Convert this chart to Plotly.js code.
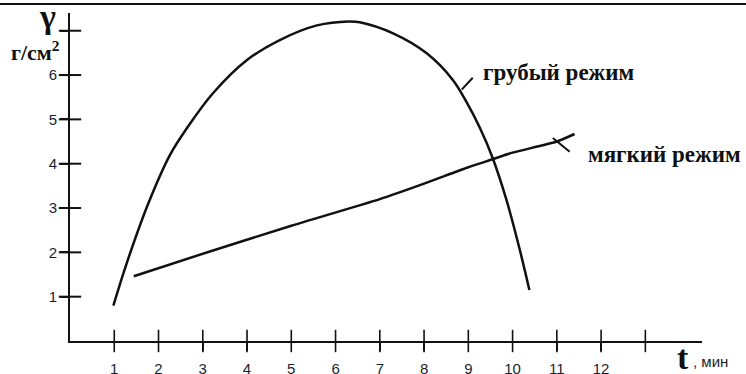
<!DOCTYPE html>
<html>
<head>
<meta charset="utf-8">
<script src="https://cdn.plot.ly/plotly-3.0.1.min.js"></script>
<style>html,body{margin:0;padding:0;background:#fff;}#chart{width:746px;height:374px;}</style>
</head>
<body>
<div id="chart"></div>
<script>
// грубый режим (coarse mode)
const roughT = [0.98, 1.29, 1.76, 2.26, 2.64, 3.23, 4.0, 4.74, 5.58, 6.3, 6.55, 7.3, 8.06, 8.65, 8.97, 9.26, 9.55, 9.86, 10.16, 10.38];
const roughG = [0.8, 1.78, 3.08, 4.2, 4.8, 5.59, 6.34, 6.79, 7.12, 7.21, 7.19, 6.94, 6.49, 5.89, 5.37, 4.81, 4.13, 3.19, 2.07, 1.15];
// мягкий режим (soft mode)
const softT = [1.44, 3.16, 5.0, 7.0, 8.0, 9.0, 9.55, 10.0, 11.0, 11.4];
const softG = [1.46, 2.02, 2.6, 3.2, 3.55, 3.92, 4.1, 4.25, 4.5, 4.67];
// axis ticks
const xTickVals = [1, 2, 3, 4, 5, 6, 7, 8, 9, 10, 11, 12, 13];
const xTickText = ['1', '2', '3', '4', '5', '6', '7', '8', '9', '10', '11', '12', ''];
const yTickVals = [1, 2, 3, 4, 5, 6, 7];
const yTickText = ['1', '2', '3', '4', '5', '6', ''];
const roughLabel = 'грубый режим';
const softLabel = 'мягкий режим';

const serif = 'Liberation Serif, Times New Roman, serif';
const sans = 'Liberation Sans, Arial, sans-serif';
const ink = '#111';

const traces = [
  {x: roughT, y: roughG, mode: 'lines', line: {color: ink, width: 2.5, shape: 'spline', smoothing: 1}, hoverinfo: 'skip', showlegend: false},
  {x: softT, y: softG, mode: 'lines', line: {color: ink, width: 2.5, shape: 'spline', smoothing: 0.6}, hoverinfo: 'skip', showlegend: false},
  // hand-drawn style tick marks that cross the axes
  {x: xTickVals, y: xTickVals.map(() => 0), mode: 'markers', cliponaxis: false, hoverinfo: 'skip', showlegend: false,
    marker: {symbol: 'line-ns-open', size: 16, color: ink, line: {color: ink, width: 1.6}}},
  {x: yTickVals.map(() => 0), y: yTickVals, mode: 'markers', cliponaxis: false, hoverinfo: 'skip', showlegend: false,
    marker: {symbol: 'line-ew-open', size: 16, color: ink, line: {color: ink, width: 2}}}
];

const xr = [0, 14.28], yr = [0, 7.4];

const layout = {
  width: 746, height: 374,
  margin: {l: 70, r: 44, t: 13, b: 33},
  paper_bgcolor: '#fff', plot_bgcolor: '#fff',
  showlegend: false,
  xaxis: {range: xr, showgrid: false, zeroline: false, showline: true, linecolor: ink, linewidth: 2,
    ticks: 'outside', ticklen: 8, tickwidth: 1.5, tickcolor: ink, tickvals: xTickVals, ticktext: xTickText,
    ticklabelstandoff: 5, tickfont: {family: sans, size: 15, color: '#1a1f2e'}, fixedrange: true},
  yaxis: {range: yr, showgrid: false, zeroline: false, showline: true, linecolor: ink, linewidth: 2,
    ticks: 'outside', ticklen: 8, tickwidth: 2, tickcolor: ink, tickvals: yTickVals, ticktext: yTickText,
    ticklabelstandoff: 0, tickfont: {family: sans, size: 15, color: '#1a1f2e'}, fixedrange: true},
  shapes: [
    {type: 'line', xref: 'paper', yref: 'paper', x0: -0.111, x1: 1.07, y0: 1.0274, y1: 1.0274, line: {color: ink, width: 2}},
    {type: 'line', xref: 'x', yref: 'y', x0: 8.85, y0: 5.67, x1: 9.1, y1: 5.94, line: {color: ink, width: 2}},
    {type: 'line', xref: 'x', yref: 'y', x0: 10.91, y0: 4.58, x1: 11.29, y1: 4.27, line: {color: ink, width: 2}}
  ],
  annotations: [
    {xref: 'x', yref: 'y', x: 9.28, y: 6.05, xanchor: 'left', yanchor: 'middle', showarrow: false, text: roughLabel,
      font: {family: serif, size: 23, color: ink, weight: 'bold'}},
    {xref: 'x', yref: 'y', x: 11.66, y: 4.2, xanchor: 'left', yanchor: 'middle', showarrow: false, text: softLabel,
      font: {family: serif, size: 23, color: ink, weight: 'bold'}},
    {xref: 'paper', yref: 'paper', x: -0.036, y: 0.99, xanchor: 'center', yanchor: 'middle', showarrow: false, text: 'γ',
      font: {family: serif, size: 34, color: ink, weight: 'bold'}},
    {xref: 'paper', yref: 'paper', x: -0.055, y: 0.885, xanchor: 'center', yanchor: 'middle', showarrow: false, text: 'г/см<sup>2</sup>',
      font: {family: serif, size: 22, color: ink, weight: 'bold'}},
    {xref: 'paper', yref: 'paper', x: 0.97, y: -0.05, xanchor: 'center', yanchor: 'middle', showarrow: false, text: 't',
      font: {family: serif, size: 34, color: ink, weight: 'bold'}},
    {xref: 'paper', yref: 'paper', x: 0.982, y: -0.063, xanchor: 'left', yanchor: 'middle', showarrow: false, text: ', мин',
      font: {family: sans, size: 15, color: '#1a1f2e'}}
  ]
};

Plotly.newPlot('chart', traces, layout, {staticPlot: true, displayModeBar: false});
</script>
</body>
</html>
